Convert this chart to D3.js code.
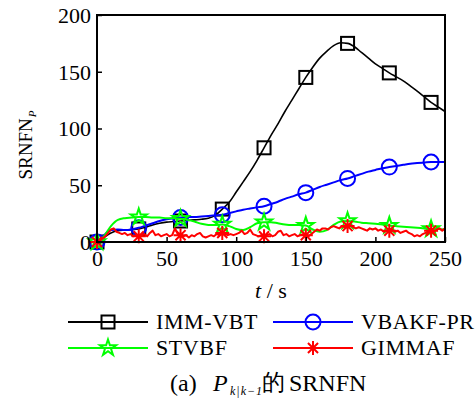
<!DOCTYPE html>
<html><head><meta charset="utf-8">
<script src="https://cdn.jsdelivr.net/npm/d3@7"></script>
<style>
body{margin:0;background:#fff}
svg{display:block}
text{font-family:"Liberation Serif",serif;fill:#000}
</style>
</head><body>
<svg id="chart" width="475" height="400" font-family="Liberation Serif, serif"></svg>
<script>
// ---------- data ----------
const timeSmooth = [0,5,10,15,20,25,30,35,40,45,50,55,60,65,70,75,80,85,90,95,100,105,110,115,120,125,130,135,140,145,150,155,160,165,170,175,180,185,190,195,200,205,210,215,220,225,230,235,240,245,250];
const immVbt = [0,4,8,10,10.5,11,11.5,13,15,16.5,17.5,18,18.5,19,19.5,20,21,23.5,29,35,44,53,62,72,83,94,104,115,125,135,145,154,162,168,173,175.5,175,172,167,162,157,153,149,145.5,142,137.5,133,128,123,119,115];
const vbakfPr = [0,6,10.5,11,10.5,11,12.5,14.5,16.5,18.5,20,21,21.5,22,22,22.5,23,23.5,24,25.5,27,28.5,29.5,30.5,31.5,33.5,35.5,38,40,42,43.5,46,48.5,50.5,52.5,54.5,56,58,60,62,63.5,65,66,67,68,69,69.5,70,70.5,70.5,70.5];
const stvbf = [0,5,14,19.5,21,21.5,22,22,21.5,21.5,21,21,20.5,19.5,18,16,15,15,15.5,14,11.5,10.5,13,16.5,17.5,17.5,16.5,15.5,15,15,14.5,11,9,10.5,15,18,18.5,18,17,16.5,16,15.5,14.5,14,13.5,13,12.5,12,11.5,11.5,11];
const timeNoisy = [0,2,4,6,8,10,12,14,16,18,20,22,24,26,28,30,32,34,36,38,40,42,44,46,48,50,52,54,56,58,60,62,64,66,68,70,72,74,76,78,80,82,84,86,88,90,92,94,96,98,100,102,104,106,108,110,112,114,116,118,120,122,124,126,128,130,132,134,136,138,140,142,144,146,148,150,152,154,156,158,160,162,164,166,168,170,172,174,176,178,180,182,184,186,188,190,192,194,196,198,200,202,204,206,208,210,212,214,216,218,220,222,224,226,228,230,232,234,236,238,240,242,244,246,248,250];
const gimmaf = [0,1,3,5,8,11,12,9,8,7,
  8,6,7,5,6,5,6,7,5,8,
  10,6,7,5,6,7,5,6,12,7,
  6,5,6,4,6,5,7,8,5,4,
  5,6,5,7,6,8,7,6,7,6,
  7,8,10,7,8,11,7,6,5,6,
  5,6,7,5,6,9,10,6,7,5,
  6,7,5,6,7,6,5,7,9,11,
  10,12,12,11,13,14,13,12,14,13,
  14,15,13,12,13,12,11,10,12,11,
  12,10,11,9,10,10,11,9,10,8,
  9,10,8,7,5,6,5,7,8,9,
  10,9,11,12,10,12];
const markerTimes = [0,30,60,90,120,150,180,210,240];
const xTicks = [0,50,100,150,200,250];
const yTicks = [0,50,100,150,200];
const seriesNames = ["IMM-VBT","VBAKF-PR","STVBF","GIMMAF"];
const seriesColors = ["#000000","#0000ff","#00ff00","#ff0000"];

// ---------- layout ----------
const SERIF = "Liberation Serif, serif";
const svg = d3.select("#chart");
const L = 97, R = 445, T = 15, B = 242;
const x = d3.scaleLinear().domain([0,250]).range([L,R]);
const y = d3.scaleLinear().domain([0,200]).range([B,T]);

const series = [
  {name:seriesNames[0], color:seriesColors[0], t:timeSmooth, v:immVbt, smooth:true, marker:"square", w:1.6},
  {name:seriesNames[1], color:seriesColors[1], t:timeSmooth, v:vbakfPr, smooth:true, marker:"circle", w:2},
  {name:seriesNames[2], color:seriesColors[2], t:timeSmooth, v:stvbf, smooth:true, marker:"star", w:2},
  {name:seriesNames[3], color:seriesColors[3], t:timeNoisy, v:gimmaf, smooth:false, marker:"asterisk", w:2}
];

function starPath(r){
  const pts=[]; const ri=r*0.382;
  for(let i=0;i<10;i++){
    const a=-Math.PI/2+i*Math.PI/5; const rr=i%2===0?r:ri;
    pts.push([rr*Math.cos(a), rr*Math.sin(a)]);
  }
  return "M"+pts.map(p=>p[0].toFixed(2)+","+p[1].toFixed(2)).join("L")+"Z";
}
function asteriskPath(r){
  const d=r*0.72;
  return `M0,${-r}L0,${r}M${-r},0L${r},0M${-d},${-d}L${d},${d}M${-d},${d}L${d},${-d}`;
}
function drawMarker(g, type, cx, cy, color){
  if(type==="square"){
    g.append("rect").attr("x",cx-6.5).attr("y",cy-6.5).attr("width",13).attr("height",13)
      .attr("fill","none").attr("stroke",color).attr("stroke-width",2);
  } else if(type==="circle"){
    g.append("circle").attr("cx",cx).attr("cy",cy).attr("r",7.5)
      .attr("fill","none").attr("stroke",color).attr("stroke-width",2);
  } else if(type==="star"){
    g.append("path").attr("d",starPath(8.5)).attr("transform",`translate(${cx},${cy})`)
      .attr("fill","none").attr("stroke",color).attr("stroke-width",2).attr("stroke-linejoin","miter");
  } else {
    g.append("path").attr("d",asteriskPath(7)).attr("transform",`translate(${cx},${cy})`)
      .attr("fill","none").attr("stroke",color).attr("stroke-width",2);
  }
}

// ---------- series ----------
const gPlot = svg.append("g");
series.forEach(s=>{
  const data = s.t.map((t,i)=>[t,s.v[i]]);
  const line = d3.line().x(d=>x(d[0])).y(d=>y(d[1]))
    .curve(s.smooth ? d3.curveMonotoneX : d3.curveLinear);
  gPlot.append("path").datum(data).attr("d",line)
    .attr("fill","none").attr("stroke",s.color).attr("stroke-width",s.w)
    .attr("stroke-linejoin","round");
  const gm = gPlot.append("g");
  markerTimes.forEach(mt=>{
    const i = s.t.indexOf(mt);
    drawMarker(gm, s.marker, x(mt), y(s.v[i]), s.color);
  });
});

// ---------- axes ----------
const xAxis = d3.axisBottom(x).tickValues(xTicks).tickSizeInner(-5).tickSizeOuter(0).tickPadding(8);
const gx = svg.append("g").attr("transform",`translate(0,${B})`).call(xAxis)
  .attr("font-family",SERIF).attr("font-size",22);
gx.select(".domain").remove();
gx.selectAll(".tick line").attr("stroke","#000").attr("stroke-width",1.5);
gx.selectAll(".tick text").attr("font-size",22).attr("y",24).attr("dy",0)
  .attr("font-family",SERIF).attr("fill","#000");

const yAxis = d3.axisLeft(y).tickValues(yTicks).tickSizeInner(-5).tickSizeOuter(0).tickPadding(7);
const gy = svg.append("g").attr("transform",`translate(${L},0)`).call(yAxis)
  .attr("font-family",SERIF).attr("font-size",22);
gy.select(".domain").remove();
gy.selectAll(".tick line").attr("stroke","#000").attr("stroke-width",1.5);
gy.selectAll(".tick text").attr("font-size",22).attr("x",-6).attr("dy","0.33em")
  .attr("font-family",SERIF).attr("fill","#000");

svg.append("rect").attr("x",L).attr("y",T).attr("width",R-L).attr("height",B-T)
  .attr("fill","none").attr("stroke","#000").attr("stroke-width",2);

// axis titles
const yt = svg.append("text").attr("transform","translate(32,145) rotate(-90)")
  .attr("text-anchor","middle").attr("font-size",19).attr("font-family",SERIF);
yt.append("tspan").text("SRNFN");
yt.append("tspan").attr("font-size",11).attr("font-style","italic").attr("dy",4).attr("dx",1).text("P");

const xt = svg.append("text").attr("x",271).attr("y",298).attr("text-anchor","middle")
  .attr("font-size",22).attr("font-family",SERIF);
xt.append("tspan").attr("font-style","italic").text("t");
xt.append("tspan").text(" / s");

// ---------- legend ----------
const legendPos = [[68,322],[273,322],[68,348],[273,348]];
series.forEach((s,i)=>{
  const [lx,ly] = legendPos[i];
  const g = svg.append("g");
  g.append("line").attr("x1",lx).attr("x2",lx+80).attr("y1",ly).attr("y2",ly)
    .attr("stroke",s.color).attr("stroke-width",2);
  drawMarker(g, s.marker, lx+40, ly, s.color);
  g.append("text").attr("x",lx+88).attr("y",ly+7).attr("font-size",22)
    .attr("font-family",SERIF).attr("letter-spacing",0.6).text(s.name);
});

// ---------- caption ----------
svg.append("text").attr("x",170).attr("y",391).attr("font-size",24).attr("font-family",SERIF).text("(a)");
svg.append("text").attr("x",213).attr("y",391).attr("font-size",24).attr("font-family",SERIF)
  .attr("font-style","italic").text("P");
svg.append("text").attr("x",230).attr("y",395).attr("font-size",12).attr("font-family",SERIF)
  .attr("font-style","italic").attr("letter-spacing",1).text("k|k−1");
svg.append("text").attr("x",262).attr("y",390).attr("font-size",23)
  .attr("font-family","Noto Sans CJK SC, sans-serif").text("的");
svg.append("text").attr("x",289).attr("y",391).attr("font-size",24).attr("font-family",SERIF).text("SRNFN");
</script>
</body></html>
